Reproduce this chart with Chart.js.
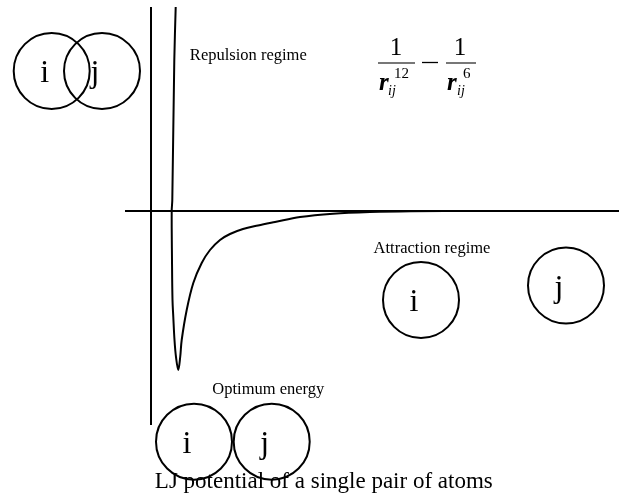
<!DOCTYPE html>
<html>
<head>
<meta charset="utf-8">
<script src="https://cdn.jsdelivr.net/npm/chart.js@4"></script>
<style>
html,body{margin:0;padding:0;background:#fff;}
#wrap{width:619px;height:497px;position:relative;}
</style>
</head>
<body>
<div id="wrap"><canvas id="c" width="619" height="497"></canvas></div>
<script>
// ---- data (r = separation, E = energy, arbitrary units) ----
const energyAxisR = [0, 0];
const energyAxisE = [2.04, -2.14];
const distanceAxisR = [-0.26, 4.68];
const distanceAxisE = [0, 0];
const curveR = [0.247, 0.233, 0.213, 0.207, 0.21, 0.215, 0.223, 0.235, 0.25, 0.273, 0.292, 0.307, 0.357, 0.423, 0.507, 0.59, 0.69, 0.79, 0.92, 1.07, 1.24, 1.49, 1.82, 2.19, 2.6, 3.27];
const curveE = [2.04, 1.51, 0.11, 0, -0.49, -0.89, -1.06, -1.29, -1.46, -1.59, -1.46, -1.29, -0.99, -0.72, -0.52, -0.39, -0.29, -0.23, -0.18, -0.145, -0.11, -0.06, -0.027, -0.01, -0.002, 0];
const atomNames = ['i', 'j', 'i', 'j', 'i', 'j'];
const atomR = [-0.993, -0.49, 0.43, 1.207, 2.70, 4.15];
const atomE = [1.40, 1.40, -2.307, -2.307, -0.89, -0.745];
const regimeLabels = ['Repulsion regime', 'Attraction regime', 'Optimum energy'];
const regimeR = [0.973, 2.81, 1.173];
const regimeE = [1.515, -0.42, -1.83];
const titleText = 'LJ potential of a single pair of atoms';

const pts = (xs, ys) => xs.map((x, k) => ({x: x, y: ys[k]}));
const SERIF = '"Liberation Serif", "Times New Roman", serif';

const textPlugin = {
  id: 'diagramText',
  afterDatasetsDraw(chart) {
    const ctx = chart.ctx, sx = chart.scales.x, sy = chart.scales.y;
    const X = v => sx.getPixelForValue(v), Y = v => sy.getPixelForValue(v);
    ctx.save();
    ctx.fillStyle = '#000';
    ctx.textBaseline = 'alphabetic';
    // atom letters
    ctx.font = '32px ' + SERIF;
    ctx.textAlign = 'center';
    atomNames.forEach((n, k) => ctx.fillText(n, X(atomR[k]) - 7, Y(atomE[k]) + 11));
    // regime labels
    ctx.font = '16.5px ' + SERIF;
    regimeLabels.forEach((t, k) => ctx.fillText(t, X(regimeR[k]), Y(regimeE[k])));
    // title
    ctx.font = '23px ' + SERIF;
    ctx.fillText(titleText, X(1.728), Y(-2.77));
    // formula 1/r^12 - 1/r^6
    const ax = X(2.76), ay = Y(1.48);
    ctx.font = '25px ' + SERIF;
    ctx.fillText('1', ax - 31, ay - 8);
    ctx.fillText('1', ax + 33, ay - 8);
    ctx.strokeStyle = '#777';
    ctx.lineWidth = 2;
    ctx.beginPath();
    ctx.moveTo(ax - 49, ay); ctx.lineTo(ax - 12, ay);
    ctx.moveTo(ax + 19, ay); ctx.lineTo(ax + 49, ay);
    ctx.stroke();
    ctx.strokeStyle = '#000';
    ctx.lineWidth = 1.3;
    ctx.beginPath();
    ctx.moveTo(ax - 5, ay - 0.5); ctx.lineTo(ax + 11, ay - 0.5);
    ctx.stroke();
    ctx.textAlign = 'left';
    ctx.font = 'italic bold 25px ' + SERIF;
    ctx.fillText('r', ax - 48, ay + 27);
    ctx.fillText('r', ax + 20, ay + 27);
    ctx.font = '15px ' + SERIF;
    ctx.fillText('12', ax - 33, ay + 15);
    ctx.fillText('6', ax + 36, ay + 15);
    ctx.font = 'italic 14px ' + SERIF;
    ctx.fillText('ij', ax - 39, ay + 32);
    ctx.fillText('ij', ax + 30, ay + 32);
    ctx.restore();
  }
};

const lineStyle = {showLine: true, pointRadius: 0, borderColor: '#000', borderWidth: 2, fill: false};

new Chart(document.getElementById('c'), {
  type: 'scatter',
  data: {
    datasets: [
      Object.assign({label: 'energy axis', data: pts(energyAxisR, energyAxisE), tension: 0}, lineStyle),
      Object.assign({label: 'distance axis', data: pts(distanceAxisR, distanceAxisE), tension: 0}, lineStyle),
      Object.assign({label: 'LJ potential', data: pts(curveR, curveE), tension: 0.35}, lineStyle),
      {
        label: 'atoms', data: pts(atomR, atomE), showLine: false, clip: false,
        pointRadius: 38, pointHoverRadius: 38, pointBorderWidth: 2,
        pointBorderColor: '#000', pointBackgroundColor: 'rgba(0,0,0,0)', borderColor: '#000'
      }
    ]
  },
  options: {
    responsive: false,
    animation: false,
    events: [],
    devicePixelRatio: 1,
    layout: {padding: 0, autoPadding: false},
    plugins: {legend: {display: false}, tooltip: {enabled: false}, title: {display: false}},
    scales: {
      x: {type: 'linear', min: -1.51, max: 4.68, display: false},
      y: {type: 'linear', min: -2.86, max: 2.11, display: false}
    }
  },
  plugins: [textPlugin]
});
</script>
</body>
</html>
